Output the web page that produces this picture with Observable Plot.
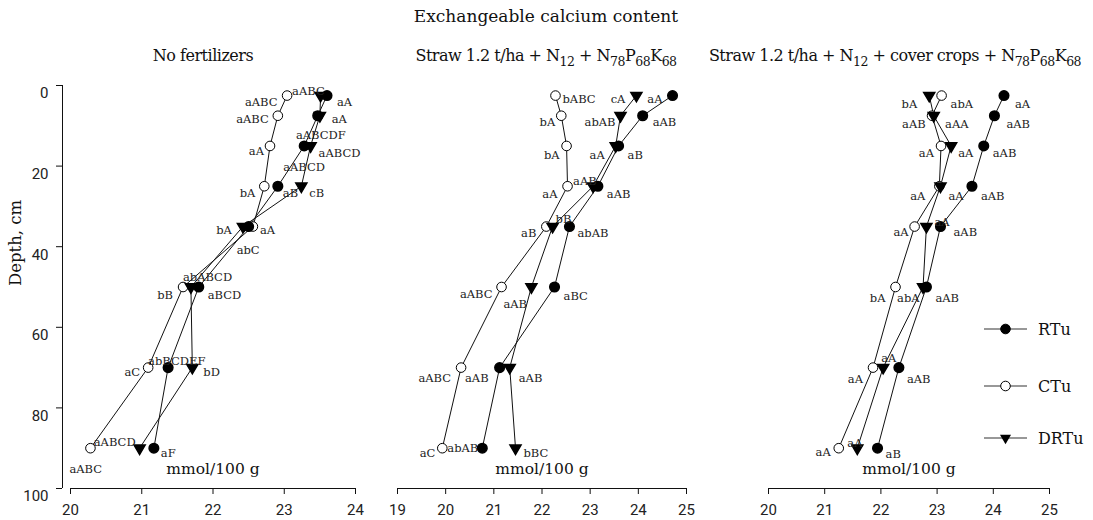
<!DOCTYPE html>
<html><head><meta charset="utf-8">
<script src="https://cdn.jsdelivr.net/npm/d3@7"></script>
<script src="https://cdn.jsdelivr.net/npm/@observablehq/plot@0.6"></script>
<style>
body{margin:0;background:#fff;}
#wrap{position:relative;width:1093px;height:520px;overflow:hidden;}
#wrap svg{position:absolute;left:0;top:0;}
</style></head><body><div id="wrap"></div>
<script>
// ---------- data ----------
const depths = [2.5, 7.5, 15, 25, 35, 50, 70, 90];
const seriesNames = ["RTu", "CTu", "DRTu"];
const yTicks = [0, 20, 40, 60, 80, 100];
const xUnit = "mmol/100 g";
const yTitle = "Depth, cm";
const mainTitle = "Exchangeable calcium content";

// Panel 1: No fertilizers
const noFertRTu  = [23.60, 23.47, 23.28, 22.91, 22.50, 21.80, 21.37, 21.17];
const noFertCTu  = [23.04, 22.91, 22.80, 22.72, 22.56, 21.58, 21.09, 20.28];
const noFertDRTu = [23.51, 23.50, 23.37, 23.24, 22.42, 21.69, 21.71, 20.97];
const noFertLabRTu  = ["aA", "aA", "aABCD", "aB", "abC", "aBCD", "abBCDEF", "aF"];
const noFertLabCTu  = ["aABC", "aABC", "aA", "bA", "aA", "bB", "aC", "aABC"];
const noFertLabDRTu = ["aABC", "aABCDF", "aABCD", "cB", "bA", "abABCD", "bD", "aABCD"];
const noFertTicks = [20, 21, 22, 23, 24];

// Panel 2: Straw 1.2 t/ha + N12 + N78P68K68
const strawRTu  = [24.71, 24.09, 23.59, 23.16, 22.57, 22.26, 21.12, 20.76];
const strawCTu  = [22.28, 22.40, 22.51, 22.53, 22.09, 21.16, 20.32, 19.93];
const strawDRTu = [23.96, 23.63, 23.53, 23.06, 22.22, 21.78, 21.33, 21.45];
const strawLabRTu  = ["aA", "aAB", "aB", "aAB", "abAB", "aBC", "aAB", "abAB"];
const strawLabCTu  = ["bABC", "bA", "bA", "aA", "aB", "aABC", "aABC", "aC"];
const strawLabDRTu = ["cA", "abAB", "aA", "aAB", "bB", "aAB", "aAB", "bBC"];
const strawTicks = [19, 20, 21, 22, 23, 24, 25];

// Panel 3: Straw 1.2 t/ha + N12 + cover crops + N78P68K68
const coverRTu  = [24.19, 24.02, 23.83, 23.62, 23.06, 22.81, 22.32, 21.94];
const coverCTu  = [23.08, 22.91, 23.07, 23.04, 22.60, 22.26, 21.86, 21.25];
const coverDRTu = [22.86, 22.94, 23.25, 23.06, 22.81, 22.75, 22.04, 21.58];
const coverLabRTu  = ["aA", "aAB", "aAB", "aAB", "aAB", "aAB", "aAB", "aB"];
const coverLabCTu  = ["abA", "aAA", "aA", "aA", "aA", "bA", "aA", "aA"];
const coverLabDRTu = ["bA", "aAB", "aA", "aA", "aA", "abA", "aA", "aA"];
const coverTicks = [20, 21, 22, 23, 24, 25];

// ---------- layout (label offsets in px: [dx, dy, anchor]) ----------
const noFertOffRTu  = [[10,7,"s"],[14,4,"s"],[-21,21.5,"s"],[5,7,"s"],[-12,24,"s"],[9,8.5,"s"],[-20,-6,"s"],[7,5,"s"]];
const noFertOffCTu  = [[5,-4,"s"],[-9,4,"e"],[-6,5,"e"],[-9,7,"e"],[7,4,"s"],[-10,8.5,"e"],[-8,5,"e"],[-21,21,"s"]];
const noFertOffDRTu = [[-43,7,"e"],[-24,20,"s"],[8,7,"s"],[8,7,"s"],[-11,4,"e"],[-8,-9.5,"s"],[11,5,"s"],[-4,-6,"e"]];
const strawOffRTu  = [[-10,4,"e"],[10,7,"s"],[9,9.5,"s"],[9,8,"s"],[8,7,"s"],[9,9.5,"s"],[-11,11,"e"],[-4,0,"e"]];
const strawOffCTu  = [[7,4,"s"],[-6,7,"e"],[-7,9.5,"e"],[-10,8,"e"],[-10,7,"e"],[-9,7.5,"e"],[-10,11,"e"],[-7,5,"e"]];
const strawOffDRTu = [[-11,4,"e"],[-5,7,"e"],[-11,9.5,"e"],[-20,-5,"s"],[3,-7,"s"],[-28,17.5,"s"],[9,11,"s"],[8,5,"s"]];
const coverOffRTu  = [[11,9,"s"],[12,9,"s"],[9,7,"s"],[9,10,"s"],[13,6,"s"],[9,11,"s"],[8,12,"s"],[8,6,"s"]];
const coverOffCTu  = [[9,9,"s"],[13,9,"s"],[-7,7,"e"],[-14,10,"e"],[-6,6,"e"],[-10,11,"e"],[-10,12,"e"],[-8,4,"e"]];
const coverOffDRTu = [[-12,9,"e"],[-8,9,"e"],[7,7,"s"],[8,10,"s"],[8,-4,"s"],[-26,11,"s"],[-2,-9,"s"],[-10,-5,"s"]];

const W = 1093, H = 520;
const SERIF = "DejaVu Serif";
const SANS = "Roboto";
const triDown = {
  draw(ctx, size) {
    const w = Math.sqrt(size) * 1.3, h = w * 0.85;
    ctx.moveTo(-w / 2, -h / 3);
    ctx.lineTo(w / 2, -h / 3);
    ctx.lineTo(0, 2 * h / 3);
    ctx.closePath();
  }
};

function rows(name, vals, labs, offs) {
  return depths.map((d, i) => ({series: name, depth: d, value: vals[i], label: labs[i], off: offs[i]}));
}

function panel(cfg) {
  const {domain, ticks, x0, x1, withY, data} = cfg;
  const marks = [];
  marks.push(Plot.ruleY([100], {stroke: "#111", strokeWidth: 1}));
  marks.push(Plot.axisX({ticks, tickSize: 6, tickPadding: 10, tickFormat: d3.format("d"), label: null,
    fontSize: 15, fontFamily: SANS, stroke: "#111", fill: "#222"}));
  if (withY) {
    marks.push(Plot.ruleX([domain[0]], {dx: -8, stroke: "#111", strokeWidth: 1}));
    marks.push(Plot.axisY({ticks: yTicks, tickSize: 6, dx: -8, label: null, tickFormat: () => "", stroke: "#111"}));
    marks.push(Plot.axisY({ticks: yTicks, tickSize: 0, tickPadding: 14, dx: -8, dy: 8, label: null,
      tickFormat: d3.format("d"), fontSize: 15, fontFamily: SANS, fill: "#222"}));
    marks.push(Plot.text([yTitle], {text: d => d, frameAnchor: "left", dx: -55, dy: -1, rotate: -90,
      fontFamily: SERIF, fontSize: 16.5, fill: "#111"}));
  }
  const order = ["CTu", "DRTu", "RTu"];
  for (const s of order) {
    marks.push(Plot.line(data[s], {x: "value", y: "depth", stroke: "#111", strokeWidth: 1}));
  }
  for (const s of order) {
    if (s === "RTu") marks.push(Plot.dot(data[s], {x: "value", y: "depth", r: 4.8, fill: "#000", stroke: "#000"}));
    if (s === "CTu") marks.push(Plot.dot(data[s], {x: "value", y: "depth", r: 4.8, fill: "#fff", stroke: "#000", strokeWidth: 1}));
    if (s === "DRTu") marks.push(Plot.dot(data[s], {x: "value", y: "depth", r: 4.8, symbol: triDown, fill: "#000", stroke: "#000"}));
  }
  for (const s of order) {
    for (const row of data[s]) {
      marks.push(Plot.text([row], {
        x: "value", y: "depth", text: "label",
        dx: row.off[0], dy: row.off[1],
        textAnchor: row.off[2] === "e" ? "end" : "start",
        fontFamily: SERIF, fontSize: 11.5, fill: "#222"
      }));
    }
  }
  marks.push(Plot.text([xUnit], {text: d => d, frameAnchor: "bottom", dy: -15, fontFamily: SERIF, fontSize: 15.5, fill: "#111"}));
  return Plot.plot({
    width: W, height: H,
    marginLeft: x0, marginRight: W - x1, marginTop: 85, marginBottom: 32,
    x: {domain, axis: null},
    y: {domain: [0, 100], reverse: true, axis: null},
    style: {background: "transparent", fontFamily: SANS, fontSize: "15px", color: "#111", overflow: "visible"},
    marks
  });
}

const wrap = document.getElementById("wrap");
wrap.appendChild(panel({domain: [20, 24], ticks: noFertTicks, x0: 70, x1: 355, withY: true, data: {
  RTu: rows("RTu", noFertRTu, noFertLabRTu, noFertOffRTu),
  CTu: rows("CTu", noFertCTu, noFertLabCTu, noFertOffCTu),
  DRTu: rows("DRTu", noFertDRTu, noFertLabDRTu, noFertOffDRTu)}}));
wrap.appendChild(panel({domain: [19, 25], ticks: strawTicks, x0: 397, x1: 686, withY: false, data: {
  RTu: rows("RTu", strawRTu, strawLabRTu, strawOffRTu),
  CTu: rows("CTu", strawCTu, strawLabCTu, strawOffCTu),
  DRTu: rows("DRTu", strawDRTu, strawLabDRTu, strawOffDRTu)}}));
wrap.appendChild(panel({domain: [20, 25], ticks: coverTicks, x0: 768, x1: 1049, withY: false, data: {
  RTu: rows("RTu", coverRTu, coverLabRTu, coverOffRTu),
  CTu: rows("CTu", coverCTu, coverLabCTu, coverOffCTu),
  DRTu: rows("DRTu", coverDRTu, coverLabDRTu, coverOffDRTu)}}));

// ---------- titles and legend ----------
const ov = d3.select(wrap).append("svg").attr("width", W).attr("height", H)
  .style("font-family", SERIF).style("pointer-events", "none");
ov.append("text").attr("x", 546).attr("y", 22).attr("text-anchor", "middle")
  .attr("font-size", 17).attr("fill", "#111").text(mainTitle);

function subtitle(cx, parts) {
  const t = ov.append("text").attr("x", cx).attr("y", 61).attr("text-anchor", "middle")
    .attr("font-size", 16).attr("fill", "#111").attr("letter-spacing", -0.5);
  let lowered = false;
  for (const [str, sub] of parts) {
    const sp = t.append("tspan").text(str);
    if (sub) {
      sp.attr("font-size", 12.5);
      if (!lowered) sp.attr("dy", 5);
      lowered = true;
    } else if (lowered) {
      sp.attr("dy", -5);
      lowered = false;
    }
  }
}
subtitle(203, [["No fertilizers"]]);
subtitle(546, [["Straw 1.2 t/ha + N"], ["12", 1], [" + N"], ["78", 1], ["P"], ["68", 1], ["K"], ["68", 1]]);
subtitle(895, [["Straw 1.2 t/ha + N"], ["12", 1], [" + cover crops + N"], ["78", 1], ["P"], ["68", 1], ["K"], ["68", 1]]);

const legYs = [329, 386, 438];
seriesNames.forEach((s, i) => {
  const y = legYs[i];
  ov.append("line").attr("x1", 984).attr("x2", 1027).attr("y1", y).attr("y2", y).attr("stroke", "#333").attr("stroke-width", 1.2);
  if (s === "DRTu") {
    ov.append("path").attr("transform", `translate(1005.5,${y})`)
      .attr("d", d3.symbol(triDown, Math.PI * 4.8 * 4.8)()).attr("fill", "#000");
  } else {
    ov.append("circle").attr("cx", 1005.5).attr("cy", y).attr("r", 4.8)
      .attr("fill", s === "RTu" ? "#000" : "#fff").attr("stroke", "#000");
  }
  ov.append("text").attr("x", 1038).attr("y", y).attr("dy", "0.35em").attr("font-size", 16).attr("fill", "#111").text(s);
});
</script></body></html>
